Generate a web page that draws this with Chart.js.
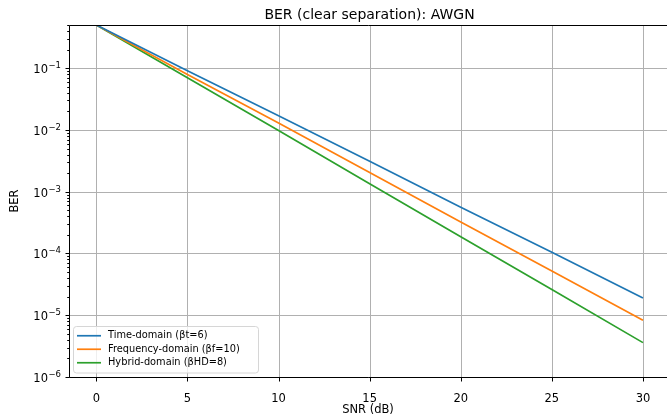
<!DOCTYPE html>
<html>
<head>
<meta charset="utf-8">
<script src="https://cdn.jsdelivr.net/npm/chart.js@4.4.1/dist/chart.umd.min.js"></script>
<style>
  html, body { margin: 0; padding: 0; background: #fff; overflow: hidden; }
  canvas { display: block; }
</style>
</head>
<body>
<canvas id="berChart" width="667" height="419"></canvas>
<script>
const snr = [0, 5, 10, 15, 20, 25, 30]
const berTime = [0.5, 0.091, 0.017, 0.0031, 0.00056, 0.000105, 0.000019]
const berFreq = [0.5, 0.079, 0.0129, 0.00204, 0.000324, 0.000052, 0.0000083]
const berHybrid = [0.5, 0.070, 0.0098, 0.00135, 0.000186, 0.000026, 0.0000036]

const seriesLabels = ['Time-domain (βt=6)', 'Frequency-domain (βf=10)', 'Hybrid-domain (βHD=8)']
const seriesColors = ['#1f77b4', '#ff7f0e', '#2ca02c']

const xTicks = [0, 5, 10, 15, 20, 25, 30]
const yTicks = [1e-6, 1e-5, 1e-4, 1e-3, 1e-2, 1e-1]
const yTickExp = ['−6', '−5', '−4', '−3', '−2', '−1']

const FONT = "'DejaVu Sans', sans-serif"

const toPoints = ys => snr.map((x, i) => ({ x: x, y: ys[i] }))

const seg = (ctx, x1, y1, x2, y2) => {
  ctx.beginPath(); ctx.moveTo(x1, y1); ctx.lineTo(x2, y2); ctx.stroke()
}

// grid under the lines, then ticks, spines, title, log labels and legend on top
// (the right spine falls just outside the cropped picture, so it is not drawn)
const decor = {
  id: 'decor',
  beforeDatasetsDraw(chart) {
    const { ctx, chartArea: a, scales } = chart
    ctx.save()
    ctx.strokeStyle = '#b0b0b0'
    ctx.lineWidth = 1
    xTicks.forEach(v => {
      const px = Math.round(scales.x.getPixelForValue(v)) + 0.5
      seg(ctx, px, a.top, px, a.bottom)
    })
    yTicks.forEach(v => {
      const py = Math.round(scales.y.getPixelForValue(v)) + 0.5
      seg(ctx, a.left, py, chart.width, py)
    })
    ctx.restore()
  },
  afterDraw(chart) {
    const { ctx, chartArea: a, scales } = chart
    const xs = scales.x, ys = scales.y
    ctx.save()
    ctx.strokeStyle = '#000'
    ctx.lineWidth = 1

    const L = Math.round(a.left) + 0.5, T = Math.round(a.top) + 0.5, B = Math.round(a.bottom) + 0.5
    seg(ctx, L, T, chart.width, T)
    seg(ctx, L, T, L, B)
    seg(ctx, L, B, chart.width, B)

    xTicks.forEach(v => {
      const px = Math.round(xs.getPixelForValue(v)) + 0.5
      seg(ctx, px, B, px, B + 4)
    })
    ctx.fillStyle = '#000'
    yTicks.forEach((v, i) => {
      const py = Math.round(ys.getPixelForValue(v)) + 0.5
      seg(ctx, L - 4, py, L, py)
      ctx.textBaseline = 'alphabetic'
      ctx.textAlign = 'right'
      ctx.font = '8.5px ' + FONT
      const ew = ctx.measureText(yTickExp[i]).width
      const right = a.left - 8
      ctx.fillText(yTickExp[i], right, py - 1)
      ctx.font = '11.5px ' + FONT
      ctx.fillText('10', right - ew - 0.5, py + 4.5)
    })
    for (let d = -6; d <= 0; d++) {
      for (let m = 2; m <= 9; m++) {
        const v = m * Math.pow(10, d)
        if (v > ys.max) continue
        const py = Math.round(ys.getPixelForValue(v)) + 0.5
        seg(ctx, L - 2.3, py, L, py)
      }
    }

    ctx.font = '14px ' + FONT
    ctx.textAlign = 'center'
    ctx.fillText('BER (clear separation): AWGN', (a.left + 670) / 2, 19)

    // legend, lower left
    const lx = 73, lw = 185, rowH = 13.5, lh = 3 * rowH + 6
    const ly = Math.round(a.bottom - 5 - lh)
    ctx.fillStyle = 'rgba(255,255,255,0.8)'
    ctx.strokeStyle = '#d6d6d6'
    ctx.beginPath()
    ctx.roundRect(lx + 0.5, ly + 0.5, lw, lh, 3)
    ctx.fill(); ctx.stroke()
    ctx.font = '9.8px ' + FONT
    ctx.textAlign = 'left'
    ctx.textBaseline = 'middle'
    seriesLabels.forEach((lab, i) => {
      const cy = ly + 3 + rowH * (i + 0.5)
      ctx.strokeStyle = seriesColors[i]
      ctx.lineWidth = 1.7
      seg(ctx, lx + 4, cy, lx + 28, cy)
      ctx.fillStyle = '#000'
      ctx.fillText(lab, lx + 35, cy)
    })
    ctx.restore()
  }
}

const datasets = [berTime, berFreq, berHybrid].map((ys, i) => ({
  label: seriesLabels[i],
  data: toPoints(ys),
  borderColor: seriesColors[i],
  backgroundColor: seriesColors[i],
  borderWidth: 1.7,
  pointRadius: 0,
  fill: false,
  tension: 0
}))

let berChart = new Chart(document.getElementById('berChart'), {
  type: 'line',
  data: { datasets: datasets },
  plugins: [decor],
  options: {
    responsive: false,
    animation: false,
    layout: { padding: { top: 25, right: 0, left: 0, bottom: 0 } },
    plugins: { legend: { display: false }, title: { display: false }, tooltip: { enabled: false } },
    scales: {
      x: {
        type: 'linear',
        min: -1.5,
        max: 31.32,
        afterBuildTicks: s => { s.ticks = xTicks.map(v => ({ value: v })) },
        afterFit: s => { s.height = 42 },
        grid: { display: false },
        border: { display: false },
        ticks: { color: '#000', font: { family: FONT, size: 11.5 }, padding: 7, maxRotation: 0 },
        title: { display: true, text: 'SNR (dB)', color: '#000', font: { family: FONT, size: 11.5 }, padding: { top: 0, bottom: 2 } }
      },
      y: {
        type: 'logarithmic',
        min: 1e-6,
        max: 0.5,
        afterBuildTicks: s => { s.ticks = yTicks.map(v => ({ value: v })) },
        afterFit: s => { s.width = 69 },
        grid: { display: false },
        border: { display: false },
        ticks: { display: true, color: 'rgba(0,0,0,0)', font: { family: FONT, size: 11.5 }, padding: 8, callback: () => '' },
        title: { display: true, text: 'BER', color: '#000', font: { family: FONT, size: 11.5 }, padding: { top: 8, bottom: 0 } }
      }
    }
  }
})
</script>
</body>
</html>
